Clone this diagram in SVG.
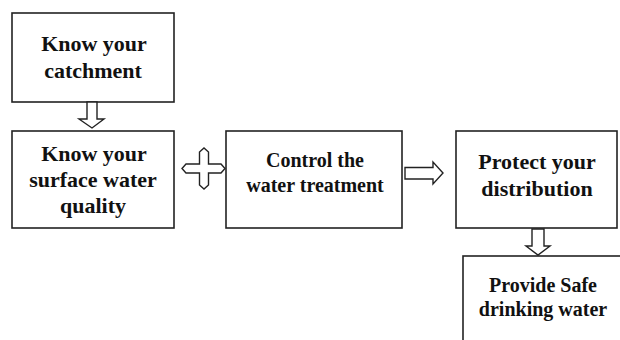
<svg xmlns="http://www.w3.org/2000/svg" width="620" height="340" viewBox="0 0 620 340">
<style>
.box{fill:#fff;stroke:#222;stroke-width:1.6}
.arr{fill:#fff;stroke:#222;stroke-width:1.4;stroke-linejoin:miter}
text{font-family:"Liberation Serif","Times New Roman",serif;font-weight:bold;fill:#111;text-anchor:middle}
.t22{font-size:22px}
.t20{font-size:20px}
</style>
<rect width="620" height="340" fill="#fff"/>
<g id="n1">
<rect class="box" x="12" y="13" width="162" height="89"/>
<text class="t22" x="94" y="50.5">Know your</text>
<text class="t22" x="93" y="77.5">catchment</text>
</g>
<g id="n2">
<rect class="box" x="12" y="131" width="162" height="97"/>
<text class="t22" x="94" y="161">Know your</text>
<text class="t22" x="93" y="187">surface water</text>
<text class="t22" x="93" y="213">quality</text>
</g>
<g id="n3">
<rect class="box" x="226" y="131" width="176" height="97"/>
<text class="t20" x="315" y="167">Control the</text>
<text class="t20" x="315" y="192">water treatment</text>
</g>
<g id="n4">
<rect class="box" x="456" y="131" width="161" height="97"/>
<text class="t22" x="537" y="169">Protect your</text>
<text class="t22" x="537" y="196">distribution</text>
</g>
<g id="n5">
<rect class="box" x="463" y="256" width="170" height="100"/>
<text class="t20" x="543" y="291.5">Provide Safe</text>
<text class="t20" x="543" y="315.5">drinking water</text>
</g>
<g id="connectors">
<path class="arr" d="M87,102 L97,102 L97,119 L104,119 L92,128 L79,119 L87,119 Z"/>
<path class="arr" d="M199.5,164 L199.5,152 L204,148 L208.5,152 L208.5,164 L221,164 L225,168.5 L221,173 L208.5,173 L208.5,185 L204,189 L199.5,185 L199.5,173 L186,173 L182,168.5 L186,164 Z"/>
<path class="arr" d="M405,167.5 L433,167.5 L433,162 L443,173 L433,184 L433,179 L405,179 Z"/>
<path class="arr" d="M532,229 L544,229 L544,246 L550,246 L538,255 L526,246 L532,246 Z"/>
</g>
</svg>
